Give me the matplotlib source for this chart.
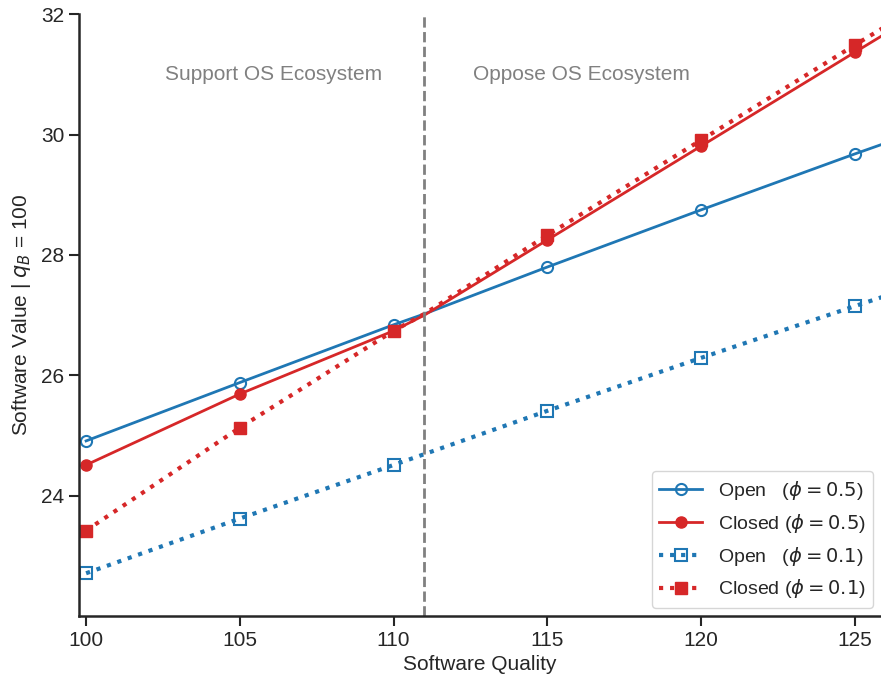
import matplotlib
matplotlib.use("Agg")
import matplotlib.pyplot as plt

plt.rcParams['font.family'] = ['Liberation Sans', 'DejaVu Sans']
plt.rcParams['mathtext.fontset'] = 'dejavusans'

# Data
x_open05 = [100, 105, 110, 111, 115, 120, 125, 126]
y_open05 = [24.91, 25.88, 26.84, 27.02, 27.80, 28.75, 29.68, 29.86]

x_closed05 = [100, 105, 110, 111, 115, 120, 125, 126]
y_closed05 = [24.51, 25.69, 26.74, 27.00, 28.25, 29.81, 31.37, 31.68]

x_open01 = [100, 105, 110, 115, 120, 125, 126]
y_open01 = [22.71, 23.62, 24.51, 25.41, 26.29, 27.15, 27.32]

x_closed01 = [100, 105, 110, 111, 115, 120, 125, 126]
y_closed01 = [23.42, 25.13, 26.74, 27.02, 28.33, 29.91, 31.49, 31.80]

mark_idx8 = [0, 1, 2, 4, 5, 6]
mark_idx7 = [0, 1, 2, 3, 4, 5]

xticks = [100, 105, 110, 115, 120, 125]
yticks = [24, 26, 28, 30, 32]

blue = '#1f77b4'
red = '#d62728'

fig = plt.figure(figsize=(8.81, 6.82), dpi=100)
ax = fig.add_axes([0.0897, 0.0968, 0.9103, 0.8822])

ax.plot(x_open05, y_open05, color=blue, lw=2, marker='o', ms=8,
        mfc='none', mew=1.5, markevery=mark_idx8, label=r'Open   ($\phi = 0.5$)')
ax.plot(x_closed05, y_closed05, color=red, lw=2, marker='o', ms=8,
        markevery=mark_idx8, label=r'Closed ($\phi = 0.5$)')
ax.plot(x_open01, y_open01, color=blue, lw=3, ls=':', marker='s', ms=8,
        mfc='none', mew=1.5, markevery=mark_idx7, label=r'Open   ($\phi = 0.1$)')
ax.plot(x_closed01, y_closed01, color=red, lw=3, ls=':', marker='s', ms=8,
        markevery=mark_idx8, label=r'Closed ($\phi = 0.1$)')

ax.axvline(111, color='gray', ls='--', lw=2)

ax.text(106.1, 31.0, 'Support OS Ecosystem', color='gray', fontsize=15,
        ha='center', va='center')
ax.text(116.1, 31.0, 'Oppose OS Ecosystem', color='gray', fontsize=15,
        ha='center', va='center')

ax.set_xlim(99.77, 125.85)
ax.set_ylim(22, 32)
ax.set_xticks(xticks)
ax.set_yticks(yticks)
ax.tick_params(labelsize=15, width=1.5, length=7, color='#262626', labelcolor='#262626')
for s in ['top', 'right']:
    ax.spines[s].set_visible(False)
for s in ['left', 'bottom']:
    ax.spines[s].set_linewidth(1.8)
    ax.spines[s].set_color('#262626')

ax.set_xlabel('Software Quality', fontsize=15, color='#262626', labelpad=4)
ax.set_ylabel(r'Software Value | $q_B$ = 100', fontsize=15, color='#262626', labelpad=6)

leg = ax.legend(loc='lower right', fontsize=14, frameon=True, fancybox=True,
                borderaxespad=0.4, handlelength=2.2)
leg.get_frame().set_edgecolor('#cccccc')
for t in leg.get_texts():
    t.set_color('#262626')

fig.savefig('out.png', dpi=100)
